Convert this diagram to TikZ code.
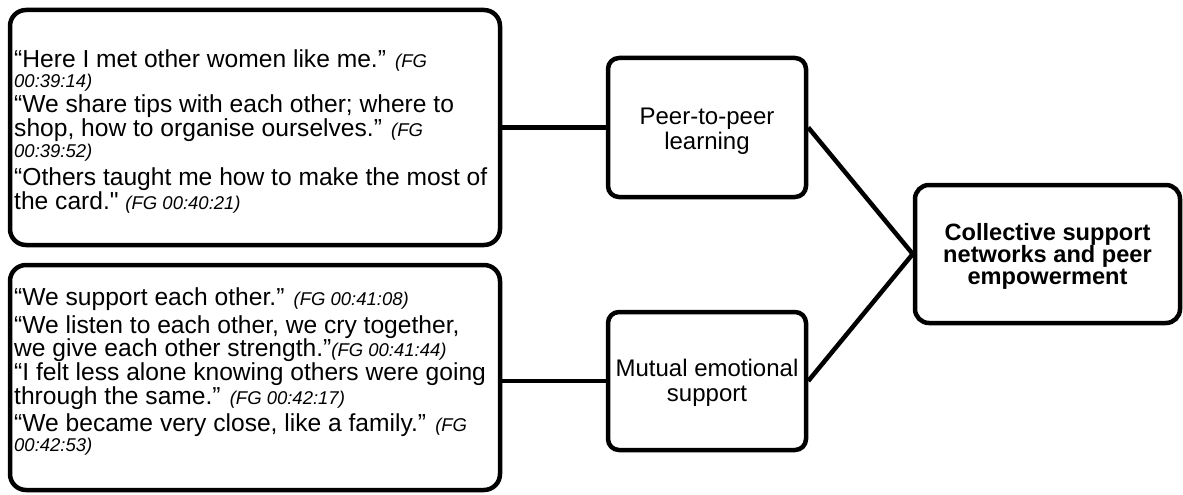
\documentclass[tikz,border=0pt]{standalone}
\usepackage{fontspec}
\setmainfont{Liberation Sans}[Ligatures=TeXOff]
% interview time stamp
\newcommand\tstamp{\itshape\fontsize{18.5}{20}\selectfont}
\begin{document}
\begin{tikzpicture}[x=1pt,y=-1pt,
  frame/.style={draw, line width=4.5pt, rounded corners=16pt},
  theme/.style={draw, line width=4.5pt, rounded corners=11pt},
  themetext/.style={align=center, inner sep=0pt, font=\fontsize{24}{25}\selectfont},
  qline/.style={anchor=base west, inner sep=0pt, font=\fontsize{24.6}{25}\selectfont},
  link/.style={line width=4.5pt}]
\useasboundingbox (0,0) rectangle (1183,495);

% quote frames
\node[frame, minimum width=490pt, minimum height=235pt] (src1) at (255,127.5) {};
\node[frame, minimum width=490pt, minimum height=225pt] (src2) at (255,377.5) {};

% themes
\node[theme, minimum width=198pt, minimum height=139pt,
  label={[themetext, yshift=-4pt]center:Peer-to-peer\\learning}] (peer) at (707,127.5) {};
\node[theme, minimum width=198pt, minimum height=138pt,
  label={[themetext, yshift=-2pt]center:Mutual emotional\\support}] (mutual) at (707,381) {};
\node[theme, rounded corners=14pt, minimum width=265pt, minimum height=138pt,
  label={[themetext, yshift=-2pt, font=\bfseries\fontsize{23.6}{22}\selectfont]center:Collective support\\networks and peer\\empowerment}]
  (final) at (1047.5,254) {};

% connectors
\draw[link] (src1.east |- peer.west) -- (peer.west);
\draw[link] (src2.east |- mutual.west) -- (mutual.west);
\draw[link] (peer.east) -- (final.west);
\draw[link] (mutual.east) -- (final.west);

% quotes, peer-to-peer learning
\node[qline] (a1) at (14,67) {“Here I met other women like me.” {\tstamp (FG}};
\node[qline] (a2) at (14,88) {\tstamp 00:39:14)};
\node[qline] (a3) at (14,112) {“We share tips with each other; where to};
\node[qline] (a4) at (14,136) {shop, how to organise ourselves.” {\tstamp (FG}};
\node[qline] (a5) at (14,157) {\tstamp 00:39:52)};
\node[qline] (a6) at (14,185) {“Others taught me how to make the most of};
\node[qline] (a7) at (14,209) {the card." {\tstamp (FG 00:40:21)}};

% quotes, mutual emotional support
\node[qline] (b1) at (14,305) {“We support each other.” {\tstamp (FG 00:41:08)}};
\node[qline] (b2) at (14,333) {“We listen to each other, we cry together,};
\node[qline] (b3) at (14,356) {we give each other strength.”{\tstamp (FG 00:41:44)}};
\node[qline] (b4) at (14,380) {“I felt less alone knowing others were going};
\node[qline] (b5) at (14,404) {through the same.” {\tstamp (FG 00:42:17)}};
\node[qline] (b6) at (14,431) {“We became very close, like a family.” {\tstamp (FG}};
\node[qline] (b7) at (14,451) {\tstamp 00:42:53)};
\end{tikzpicture}
\end{document}
